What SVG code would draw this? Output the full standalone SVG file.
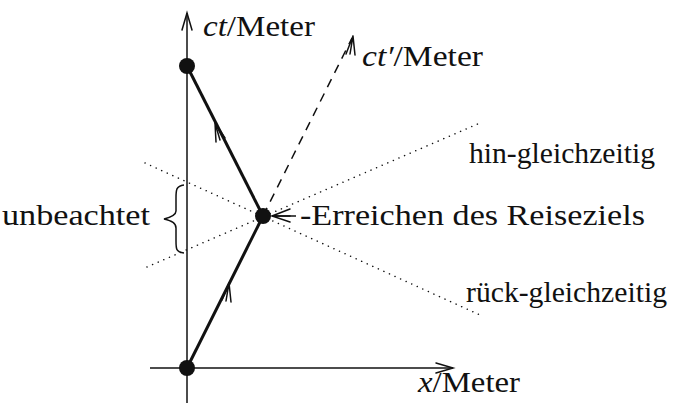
<svg xmlns="http://www.w3.org/2000/svg" width="674" height="403" viewBox="0 0 674 403">
<defs>
<style>
.axis{stroke:#111;stroke-width:1.5;fill:none}
.world{stroke:#111;stroke-width:3;fill:none}
.dash{stroke:#111;stroke-width:1.5;fill:none;stroke-dasharray:9 7}
.dot{stroke:#111;stroke-width:1.5;fill:none;stroke-dasharray:0.1 6;stroke-linecap:round}
.head{stroke:#111;stroke-width:1.5;fill:none;stroke-linecap:round}
.lbl{font-family:"Liberation Serif","DejaVu Serif",serif;font-size:29px;fill:#111}
.it{font-style:italic}
.ev{fill:#111}
</style>
</defs>
<g id="connectors">
<line class="axis" x1="187" y1="403" x2="187" y2="13"/>
<path class="head" d="M182,30 L187,13 L192,30"/>
<line class="axis" x1="150" y1="368" x2="453" y2="368"/>
<path class="head" d="M436,363 L453,368 L436,373"/>
<line class="dash" x1="263" y1="216" x2="352" y2="38"/>
<path class="head" d="M346,54 L353,36 L355,55 M353,36 L350,54"/>
<line class="world" x1="187" y1="368" x2="263" y2="216"/>
<line class="world" x1="263" y1="216" x2="187" y2="66"/>
<path class="head" d="M222,300 L229,283 L231,302 M229,283 L226,301"/>
<path class="head" d="M216,142 L215,123 L225,138 M215,123 L220,140"/>
<line class="dot" x1="147" y1="267" x2="480" y2="123"/>
<line class="dot" x1="145" y1="163" x2="480" y2="315"/>
<line class="axis" x1="272" y1="216" x2="296" y2="216"/>
<path class="head" d="M290,209 L272,216 L290,222 M272,216 L290,216"/>
<path class="axis" d="M184,185 C176,186 176,190 176,198 L176,211 C176,215 172,217 164,219 C172,221 176,223 176,228 L176,241 C176,249 176,252 184,253"/>
</g>
<g id="origin"><circle class="ev" cx="187" cy="368" r="8"/></g>
<g id="return"><circle class="ev" cx="187" cy="66" r="8"/></g>
<g id="destination"><circle class="ev" cx="263" cy="216" r="8"/></g>
<g id="labels">
<text class="lbl" x="203" y="36" textLength="112" lengthAdjust="spacingAndGlyphs"><tspan class="it">ct</tspan>/Meter</text>
<text class="lbl" x="362" y="66" textLength="121" lengthAdjust="spacingAndGlyphs"><tspan class="it">ct′</tspan>/Meter</text>
<text class="lbl" x="469" y="163" textLength="186" lengthAdjust="spacingAndGlyphs">hin-gleichzeitig</text>
<text class="lbl" x="2" y="225" textLength="148" lengthAdjust="spacingAndGlyphs">unbeachtet</text>
<text class="lbl" x="300" y="225" textLength="345" lengthAdjust="spacingAndGlyphs">-Erreichen des Reiseziels</text>
<text class="lbl" x="466" y="302" textLength="201" lengthAdjust="spacingAndGlyphs">rück-gleichzeitig</text>
<text class="lbl" x="418" y="392" textLength="102" lengthAdjust="spacingAndGlyphs"><tspan class="it">x</tspan>/Meter</text>
</g>
</svg>
